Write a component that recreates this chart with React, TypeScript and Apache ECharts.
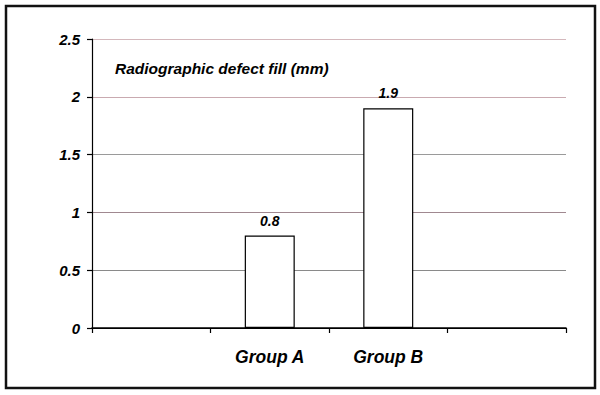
import React, { useEffect, useRef } from "react";
import * as echarts from "echarts";

const categories = ["", "Group A", "Group B", ""];
const values: (number | null)[] = [null, 0.8, 1.9, null];
const yTicks = [0, 0.5, 1, 1.5, 2, 2.5];
const chartTitle = "Radiographic defect fill (mm)";

const FONT = "'Liberation Sans', Arial, sans-serif";

export default function App() {
  const ref = useRef<HTMLDivElement>(null);
  useEffect(() => {
    if (!ref.current) return;
    const chart = echarts.init(ref.current, undefined, { renderer: "svg" });
    chart.setOption({
      animation: false,
      backgroundColor: "#ffffff",
      grid: { left: 92, right: 34, top: 39, bottom: 67 },
      graphic: [
        {
          type: "rect",
          shape: { x: 6, y: 6, width: 589, height: 382 },
          style: { fill: "none", stroke: "#111", lineWidth: 2.5 },
        },
        {
          type: "text",
          x: 115,
          y: 68,
          style: {
            text: chartTitle,
            font: `italic bold 15.5px ${FONT}`,
            fill: "#000",
            verticalAlign: "middle",
          },
        },
      ],
      xAxis: {
        type: "category",
        data: categories,
        boundaryGap: true,
        axisLine: { lineStyle: { color: "#000", width: 1.5 } },
        axisTick: { show: true, length: 5, lineStyle: { color: "#000", width: 1.2 } },
        axisLabel: {
          margin: 20,
          color: "#000",
          fontFamily: FONT,
          fontStyle: "italic",
          fontWeight: "bold",
          fontSize: 17.5,
        },
      },
      yAxis: {
        type: "value",
        min: yTicks[0],
        max: yTicks[yTicks.length - 1],
        interval: 0.5,
        axisLine: { show: true, lineStyle: { color: "#000", width: 1.2 } },
        axisTick: { show: true, length: 5, lineStyle: { color: "#000", width: 1.2 } },
        axisLabel: {
          margin: 12,
          color: "#000",
          fontFamily: FONT,
          fontStyle: "italic",
          fontWeight: "bold",
          fontSize: 15,
          formatter: (v: number) => String(v),
        },
        splitLine: {
          show: true,
          lineStyle: {
            color: ["#000", "#8a8a8a", "#a08890", "#9a9a9a", "#c9aab0", "#d4b8bc"],
            width: 1.2,
          },
        },
      },
      series: [
        {
          type: "bar",
          data: values,
          barWidth: 50,
          itemStyle: { color: "#ffffff", borderColor: "#000", borderWidth: 1.2 },
          label: {
            show: true,
            position: "top",
            distance: 8,
            color: "#000",
            fontFamily: FONT,
            fontStyle: "italic",
            fontWeight: "bold",
            fontSize: 14,
            formatter: (p: any) => String(p.value),
          },
        },
      ],
    });
    return () => chart.dispose();
  }, []);
  return (
    <div
      ref={ref}
      style={{ position: "absolute", left: 0, top: 0, width: 600, height: 395 }}
    />
  );
}
